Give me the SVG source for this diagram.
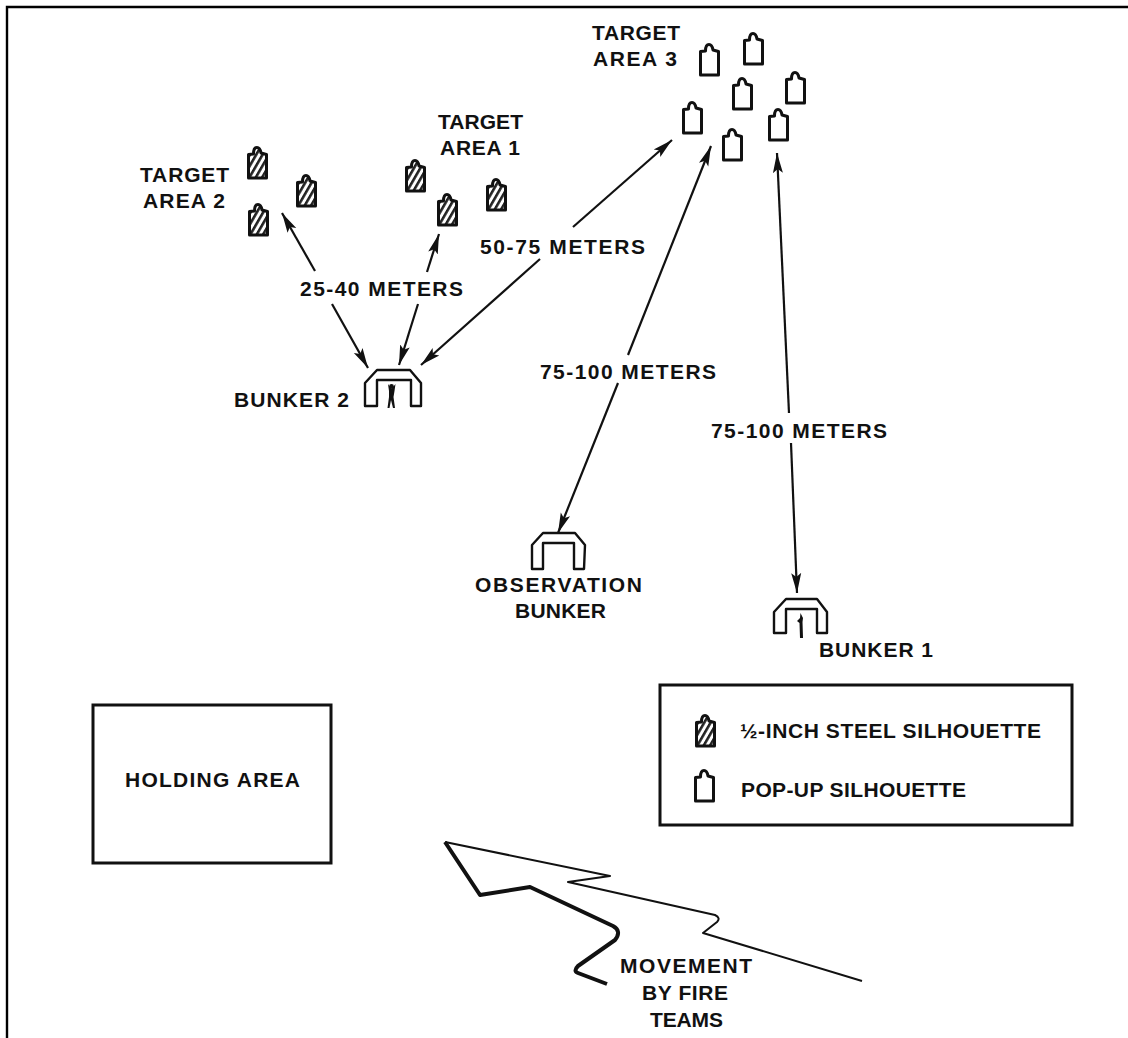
<svg xmlns="http://www.w3.org/2000/svg" width="1128" height="1038" viewBox="0 0 1128 1038">
<style>
text{font-family:"Liberation Sans",Arial,sans-serif;font-weight:bold;font-size:21px;fill:#111;}
.sil{stroke:#111;stroke-width:3;stroke-linejoin:round;}
.con{stroke:#111;stroke-width:2.2;fill:none;marker-end:url(#ah);}
.bk{fill:#fff;stroke:#111;stroke-width:2.4;stroke-linejoin:round;}
.box{fill:#fff;stroke:#111;stroke-width:3;}
</style>
<defs>
<marker id="ah" markerUnits="userSpaceOnUse" markerWidth="22" markerHeight="14" refX="20" refY="6" orient="auto"><path d="M0,1 L20,6 L0,11 L4,6 Z" fill="#111"/></marker>
<pattern id="hatch" patternUnits="userSpaceOnUse" width="5.5" height="5.5" patternTransform="rotate(30)"><rect width="5.5" height="5.5" fill="#fff"/><rect width="2.6" height="5.5" fill="#222"/></pattern>
<path id="shape" d="M1.500,32 L1.500,8.500 L6.500,8 C6.500,3 8,1.500 10,1.500 C12.500,1.500 13.500,4 14,7 L19.500,8.500 L19.500,32 Z"/>
<use id="pop" href="#shape" class="sil" fill="#fff"/>
<use id="steel" href="#shape" class="sil" fill="url(#hatch)"/>
</defs>
<rect width="1128" height="1038" fill="#fff"/>
<path id="frame" d="M7,1038 L7,7 L1128,7" fill="none" stroke="#000" stroke-width="2.4"/>
<g id="connectors">
<line class="con" x1="315" y1="271" x2="282" y2="213"/>
<line class="con" x1="427" y1="272" x2="439" y2="234"/>
<line class="con" x1="332" y1="304" x2="368" y2="368"/>
<line class="con" x1="418" y1="304" x2="399" y2="365"/>
<line class="con" x1="573" y1="227" x2="672" y2="140"/>
<line class="con" x1="540" y1="259" x2="421" y2="365"/>
<line class="con" x1="628" y1="355" x2="711" y2="146"/>
<line class="con" x1="618" y1="383" x2="558" y2="533"/>
<line class="con" x1="789" y1="413" x2="777" y2="153"/>
<line class="con" x1="791" y1="443" x2="797" y2="593"/>
</g>
<g id="target-area-1"><text x="438" y="129" textLength="85">TARGET</text><text x="440" y="155" textLength="80">AREA 1</text>
<use href="#steel" x="405" y="159"/><use href="#steel" x="437" y="193"/><use href="#steel" x="486" y="178"/></g>
<g id="target-area-2"><text x="140" y="182" textLength="89">TARGET</text><text x="143" y="208" textLength="82">AREA 2</text>
<use href="#steel" x="247" y="146"/><use href="#steel" x="296" y="174"/><use href="#steel" x="248" y="203"/></g>
<g id="target-area-3"><text x="592" y="40" textLength="88">TARGET</text><text x="593" y="66" textLength="84">AREA 3</text>
<use href="#pop" x="699" y="43"/><use href="#pop" x="743" y="32"/><use href="#pop" x="732" y="77"/><use href="#pop" x="785" y="71"/><use href="#pop" x="768" y="108"/><use href="#pop" x="682" y="101"/><use href="#pop" x="722" y="128"/></g>
<g id="labels">
<text x="300" y="296" textLength="163">25-40 METERS</text>
<text x="480" y="254" textLength="165">50-75 METERS</text>
<text x="540" y="379" textLength="176">75-100 METERS</text>
<text x="711" y="438" textLength="176">75-100 METERS</text>
</g>
<g id="bunker-2"><path class="bk" d="M365,406 L365,383 L377,370 L410,370 L421,383 L421,406 L411,406 L411,380 L377,380 L377,406 Z"/>
<circle cx="391.500" cy="386.500" r="2.400" fill="#111"/>
<path d="M388,384 L391.500,389 L395.500,384 L394.500,391 L393.500,397 L395,408 L393,408 L391,400 L389.500,408 L387.500,408 L389,397 L389,391 Z" fill="#111"/>
<text x="234" y="407" textLength="115">BUNKER 2</text></g>
<g id="observation-bunker"><path class="bk" d="M532,569 L532,545 L543,533 L575,533 L585,545 L584,569 L574,569 L574,543 L543,543 L543,569 Z"/>
<text x="475" y="592" textLength="167">OBSERVATION</text><text x="515" y="618" textLength="91">BUNKER</text></g>
<g id="bunker-1"><path class="bk" d="M774,633 L774,612 L786,599 L817,599 L827,612 L827,633 L817,633 L817,609 L786,609 L786,633 Z"/>
<path d="M800.500,613 L803,618 L802.500,622 L803,638 L800,638 L799.500,623 L797,621 L800,618 Z" fill="#111"/>
<text x="819" y="657" textLength="114">BUNKER 1</text></g>
<g id="legend"><rect class="box" x="660" y="685" width="412" height="140"/>
<use href="#steel" x="695" y="714"/><use href="#pop" x="694" y="769"/>
<text x="740" y="738" textLength="301">½-INCH STEEL SILHOUETTE</text>
<text x="741" y="797" textLength="225">POP-UP SILHOUETTE</text></g>
<g id="holding-area"><rect class="box" x="93" y="705" width="238" height="158"/>
<text x="125" y="787" textLength="175">HOLDING AREA</text></g>
<g id="movement-arrow">
<path d="M445,842 L480,895 L530,887 L613,926 Q622,931 615,940 L578,966 Q573,971 578,973 L607,984" fill="none" stroke="#111" stroke-width="4" stroke-linejoin="round"/>
<path d="M445,842 L610,876 L568,882 L715,915 Q721,918 717,922 L703,933 L862,981" fill="none" stroke="#111" stroke-width="2" stroke-linejoin="round"/>
<text x="620" y="973" textLength="132">MOVEMENT</text><text x="642" y="1000" textLength="86">BY FIRE</text><text x="650" y="1027" textLength="73">TEAMS</text></g>
</svg>
